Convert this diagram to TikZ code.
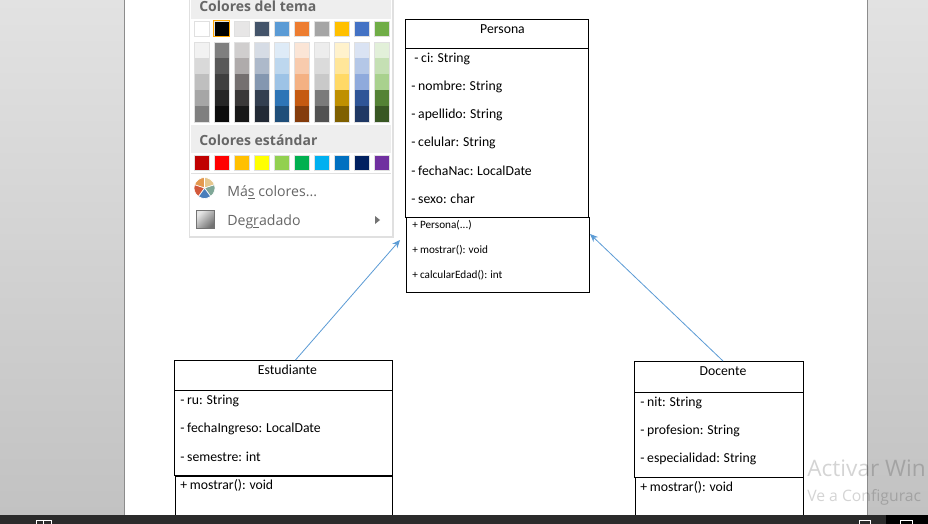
\documentclass[tikz,border=0pt]{standalone}
\usepackage{fontspec}
\setmainfont{Carlito}[WordSpace=0.88]
\newfontfamily\officefont{Open Sans}
\usetikzlibrary{arrows.meta,calc}

\definecolor{barcol}{HTML}{2B2B2B}
\definecolor{sidetop}{HTML}{E2E2E2}
\definecolor{sidecol}{HTML}{C2C2C2}
\definecolor{menuband}{HTML}{EEEEEE}
\definecolor{menutext}{HTML}{666666}
\definecolor{arrowcol}{HTML}{5B9BD5}
\newcommand{\argdots}{...}

\tikzset{
    classbox/.style={draw=black, line width=0.75pt, anchor=north west, inner sep=0pt},
    member/.style={anchor=west, inner sep=0pt, font=\fontsize{10.3}{12}\selectfont},
    smallmember/.style={anchor=west, inner sep=0pt, font=\fontsize{8.4}{10}\selectfont},
    classname/.style={inner sep=0pt, font=\fontsize{10.3}{12}\selectfont},
    swatch/.style={draw=black!12, line width=0.75pt},
    menuhead/.style={anchor=west, inner sep=0pt, text=menutext, font=\officefont\bfseries\fontsize{10.5}{12}\selectfont},
    menuitem/.style={anchor=west, inner sep=0pt, text=menutext, font=\officefont\fontsize{10.6}{12}\selectfont},
    inherit/.style={draw=arrowcol, line width=0.6pt, -{Stealth[length=6pt,width=5pt]}},
    watermark/.style={anchor=west, inner sep=0pt, text=black, text opacity=0.17}
}

\begin{document}
\begin{tikzpicture}[x=0.75pt, y=-0.75pt]
    \useasboundingbox (0,0) rectangle (928,524);
    \clip (0,0) rectangle (928,524);

    % window and page
    \fill[top color=sidetop, bottom color=sidecol] (0,0) rectangle (928,515);
    \fill[white] (125,0) rectangle (867,524);
    \draw[black!45, line width=0.9pt] (124.5,0) -- (124.5,524) (867.5,0) -- (867.5,524);

    % Persona
    \node[classbox, minimum width=137.25pt, minimum height=21.75pt] (personaHead) at (405,19) {};
    \node[classbox, minimum width=137.25pt, minimum height=126.75pt] (personaAttr) at (405,48) {};
    \node[classbox, minimum width=137.25pt, minimum height=56.25pt] (personaOps) at (406,217) {};
    \node[classname] (personaName) at (502.5,29) {Persona};
    \foreach \x/\y/\txt [count=\i] in {414/58.7/- ci: String, 411/86.7/- nombre: String, 411/114.7/- apellido: String, 411/142.7/- celular: String, 411/170.3/- fechaNac: LocalDate, 411/199/- sexo: char}
        \node[member] (personaA\i) at (\x,\y) {\txt};
    \foreach \y/\txt [count=\i] in {225/+ Persona(\argdots), 250/+ mostrar(): void, 275/+ calcularEdad(): int}
        \node[smallmember] (personaM\i) at (412,\y) {\txt};

    % Estudiante
    \node[classbox, minimum width=163.5pt, minimum height=22.5pt] (estudianteHead) at (174,360) {};
    \node[classbox, minimum width=163.5pt, minimum height=63.75pt] (estudianteAttr) at (174,390) {};
    \node[classbox, minimum width=162.75pt, minimum height=45pt] (estudianteOps) at (175,476) {};
    \node[classname] (estudianteName) at (287.5,370) {Estudiante};
    \foreach \y/\txt [count=\i] in {400.5/- ru: String, 428.5/- fechaIngreso: LocalDate, 456.5/- semestre: int, 485/+ mostrar(): void}
        \node[member] (estudianteT\i) at (180,\y) {\txt};

    % Docente
    \node[classbox, minimum width=126.75pt, minimum height=23.25pt] (docenteHead) at (634,361) {};
    \node[classbox, minimum width=126.75pt, minimum height=63.75pt] (docenteAttr) at (634,392) {};
    \node[classbox, minimum width=126pt, minimum height=45pt] (docenteOps) at (635,477) {};
    \node[classname] (docenteName) at (723,371) {Docente};
    \foreach \y/\txt [count=\i] in {402.5/- nit: String, 430.5/- profesion: String, 458.5/- especialidad: String, 487/+ mostrar(): void}
        \node[member] (docenteT\i) at (640,\y) {\txt};

    % arrows
    \coordinate (leftTip) at (400,240);
    \coordinate (rightTip) at (590,234);
    \draw[inherit] ([xshift=9pt]estudianteHead.north) -- (leftTip);
    \draw[inherit] ([xshift=3pt]docenteHead.north) -- (rightTip);

    % colour menu
    \fill[black!12] (189,0) rectangle (393.5,237.5);
    \fill[white] (190,0) rectangle (392,236);
    \fill[menuband] (191,0) rectangle (391,19);
    \fill[menuband] (191,125) rectangle (391,153);
    \draw[black!12, line width=0.75pt] (191,173.5) -- (391,173.5);
    \node[menuhead] (temaHead) at (199,6) {Colores del tema};
    \node[menuhead] (estandarHead) at (199,140) {Colores estándar};
    \foreach \c [count=\i from 0] in {FFFFFF,000000,E7E6E6,44546A,5B9BD5,ED7D31,A5A5A5,FFC000,4472C4,70AD47} {
        \definecolor{cellcol}{HTML}{\c}
        \fill[swatch, fill=cellcol] ({194+20*\i},21.5) rectangle ({209+20*\i},36.5);
    }
    \draw[draw=orange!70!yellow, line width=0.75pt] (213.5,20.5) rectangle (229,37);
    \foreach \cols [count=\i from 0] in {
        {F2F2F2,D9D9D9,BFBFBF,A6A6A6,7F7F7F},
        {7F7F7F,595959,3F3F3F,262626,0C0C0C},
        {D0CECE,AFABAB,757070,3A3838,171717},
        {D6DCE5,ADB9CA,8497B0,333F50,222A35},
        {DEEBF7,BDD7EE,9DC3E6,2E75B6,1F4E79},
        {FBE5D6,F8CBAD,F4B183,C55A11,843C0C},
        {EDEDED,DBDBDB,C9C9C9,7B7B7B,525252},
        {FFF2CC,FFE699,FFD966,BF9000,7F6000},
        {DAE3F3,B4C7E7,8FAADC,2F5597,1F3864},
        {E2F0D9,C5E0B4,A9D18E,548235,385723}} {
        \foreach \c [count=\j from 0] in \cols {
            \definecolor{cellcol}{HTML}{\c}
            \fill[cellcol] ({194+20*\i},{42.5+16*\j}) rectangle ({209+20*\i},{58.5+16*\j});
        }
        \draw[swatch] ({194+20*\i},42.5) rectangle ({209+20*\i},122.5);
    }
    \foreach \c [count=\i from 0] in {C00000,FF0000,FFC000,FFFF00,92D050,00B050,00B0F0,0070C0,002060,7030A0} {
        \definecolor{cellcol}{HTML}{\c}
        \fill[swatch, fill=cellcol] ({194+20*\i},155.5) rectangle ({209+20*\i},170.5);
    }

    % menu entries
    \foreach \a/\b/\c in {-162/-90/E3994F,-90/-18/E5C68D,-18/54/7FA797,54/126/4A7EBB,126/198/D2583A} {
        \definecolor{cellcol}{HTML}{\c}
        \filldraw[fill=cellcol, draw=white, line width=0.5pt] (204.5,188) -- +(\a:10.5) arc[start angle=\a, end angle=\b, radius=10.5] -- cycle;
    }
    \node[menuitem] (masColores) at (227,192) {Má\underline{s} colores...};
    \node[menuitem] (degradado) at (227,222) {Deg\underline{r}adado};
    \shade[left color=black!10, right color=black!55, shading angle=45, draw=black!55, line width=0.75pt] (196.5,211) rectangle (214,228);
    \fill[black!55] (375,216) -- (380,220) -- (375,224) -- cycle;

    % watermark
    \node[watermark, font=\officefont\fontsize{17}{20}\selectfont] (activar) at (807,468) {Activar Win};
    \node[watermark, font=\officefont\fontsize{11.8}{14}\selectfont] (configura) at (807,497) {Ve a Configurac};

    % task bar
    \fill[barcol] (0,515) rectangle (928,524);
    \fill[black] (886,515) rectangle (928,524);
    \draw[white, line width=0.75pt] (36,524) -- (36,520.5) -- (43,520.5) -- (43,524) (43,520.5) -- (51,520.5) -- (51,524);
    \draw[white, line width=0.75pt] (859,524) -- (859,520.5) -- (870,520.5) -- (870,524);
    \draw[white, line width=0.75pt] (900,524) -- (900,520.5) -- (912,520.5) -- (912,524);
\end{tikzpicture}
\end{document}
